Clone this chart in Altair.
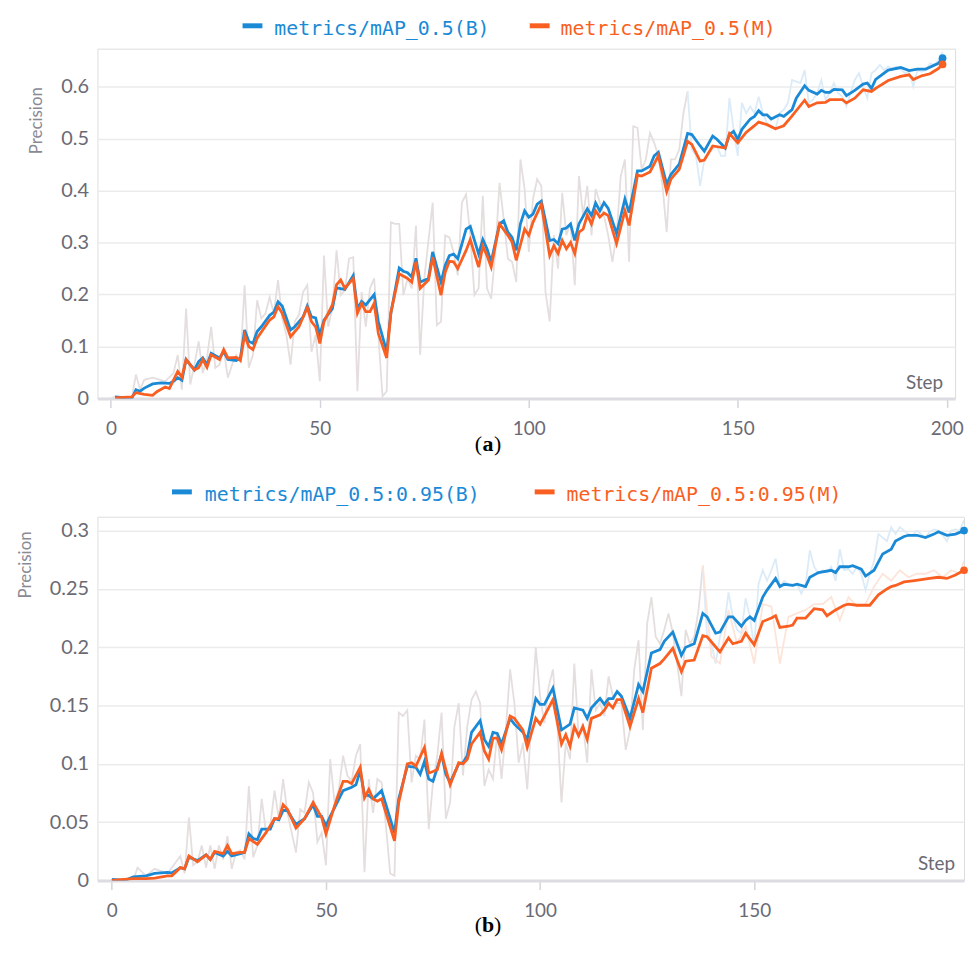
import altair as alt
import pandas as pd

# ---------------- Panel (a): metrics/mAP_0.5 ----------------
a_b_steps = [1, 5, 6, 7, 8, 10, 12, 14, 15, 16, 17, 18, 20, 21, 22, 23, 24, 26, 27, 28, 30, 31, 32, 33, 34, 35, 36, 38, 39, 40,
             41, 43, 44, 46, 47, 48, 49, 50, 51, 53, 54, 56, 58, 59, 60, 61, 63, 64, 66, 67, 69, 70, 71, 72, 73, 74, 76, 77, 79, 80,
             81, 82, 83, 85, 86, 88, 89, 90, 91, 93, 94, 95, 96, 97, 98, 99, 100, 101, 102, 103, 105, 106, 107, 108, 109, 110, 111, 112, 114, 115,
             116, 117, 118, 119, 121, 123, 124, 126, 127, 129, 130, 131, 133, 134, 136, 138, 139, 141, 142, 144, 145, 147, 148, 149, 150, 151, 153, 154, 155, 156,
             157, 158, 160, 161, 163, 164, 166, 167, 169, 170, 171, 172, 173, 175, 176, 178, 180, 181, 182, 183, 186, 189, 191, 193, 195, 198, 199]
a_b_vals = [0.003, 0.0, 0.017, 0.014, 0.02, 0.028, 0.03, 0.029, 0.033, 0.04, 0.035, 0.075, 0.055, 0.071, 0.078, 0.065, 0.087, 0.078, 0.09, 0.075, 0.073, 0.078, 0.132, 0.11, 0.106, 0.129, 0.138, 0.16, 0.166, 0.186,
            0.178, 0.132, 0.138, 0.157, 0.178, 0.157, 0.155, 0.122, 0.151, 0.173, 0.213, 0.21, 0.237, 0.173, 0.187, 0.18, 0.2, 0.148, 0.09, 0.164, 0.251, 0.245, 0.242, 0.234, 0.27, 0.224, 0.231, 0.282, 0.224, 0.256,
            0.275, 0.278, 0.269, 0.326, 0.331, 0.278, 0.306, 0.288, 0.263, 0.336, 0.342, 0.32, 0.31, 0.285, 0.336, 0.361, 0.349, 0.355, 0.374, 0.38, 0.304, 0.306, 0.298, 0.326, 0.328, 0.336, 0.304, 0.336, 0.365, 0.352,
            0.376, 0.361, 0.377, 0.366, 0.317, 0.384, 0.358, 0.438, 0.438, 0.447, 0.467, 0.474, 0.412, 0.431, 0.451, 0.51, 0.508, 0.486, 0.476, 0.505, 0.499, 0.482, 0.508, 0.514, 0.499, 0.518, 0.538, 0.543, 0.554, 0.546,
            0.546, 0.538, 0.546, 0.543, 0.556, 0.578, 0.602, 0.593, 0.586, 0.593, 0.589, 0.589, 0.595, 0.594, 0.583, 0.593, 0.605, 0.607, 0.597, 0.614, 0.632, 0.637, 0.631, 0.634, 0.634, 0.645, 0.655]

a_m_steps = [1, 5, 6, 8, 10, 11, 13, 14, 16, 17, 18, 20, 21, 22, 23, 24, 26, 27, 28, 30, 31, 32, 33, 34, 35, 38, 39, 40, 41, 43,
             45, 47, 48, 49, 50, 51, 53, 54, 55, 56, 58, 59, 60, 61, 62, 63, 64, 66, 67, 69, 71, 72, 73, 74, 76, 77, 79, 80, 81, 82,
             83, 85, 86, 88, 89, 90, 91, 93, 95, 96, 97, 99, 100, 101, 103, 105, 106, 107, 108, 109, 110, 111, 112, 113, 114, 115, 116, 117, 118, 119,
             121, 123, 124, 126, 127, 129, 131, 133, 134, 136, 138, 139, 141, 142, 144, 147, 148, 150, 152, 154, 155, 157, 159, 161, 163, 166, 167, 169, 171, 172,
             175, 176, 178, 180, 182, 183, 186, 189, 191, 192, 194, 196, 198, 199]
a_m_vals = [0.001, 0.003, 0.011, 0.008, 0.006, 0.013, 0.022, 0.019, 0.052, 0.041, 0.075, 0.055, 0.059, 0.075, 0.06, 0.084, 0.075, 0.094, 0.078, 0.079, 0.073, 0.122, 0.1, 0.094, 0.116, 0.151, 0.157, 0.177, 0.164, 0.119,
            0.138, 0.175, 0.148, 0.138, 0.106, 0.148, 0.18, 0.219, 0.228, 0.212, 0.231, 0.164, 0.183, 0.167, 0.167, 0.183, 0.125, 0.078, 0.165, 0.24, 0.231, 0.224, 0.263, 0.212, 0.228, 0.272, 0.199, 0.243, 0.264, 0.263,
            0.25, 0.285, 0.306, 0.253, 0.293, 0.275, 0.253, 0.336, 0.314, 0.301, 0.266, 0.326, 0.314, 0.339, 0.374, 0.275, 0.294, 0.279, 0.304, 0.288, 0.3, 0.279, 0.32, 0.326, 0.353, 0.336, 0.361, 0.349, 0.357, 0.352,
            0.298, 0.361, 0.333, 0.43, 0.428, 0.436, 0.467, 0.398, 0.422, 0.441, 0.495, 0.489, 0.457, 0.459, 0.486, 0.482, 0.51, 0.492, 0.512, 0.525, 0.532, 0.527, 0.519, 0.525, 0.544, 0.574, 0.562, 0.569, 0.57, 0.575,
            0.575, 0.569, 0.578, 0.594, 0.591, 0.597, 0.612, 0.62, 0.623, 0.614, 0.621, 0.625, 0.635, 0.643]

# raw (unsmoothed) values, where the two series overlap, then the B series alone
a_raw_steps = [0, 1, 2, 3, 4, 5, 6, 7, 8, 10, 13, 15, 16, 17, 18, 19, 20, 21, 22, 23, 24, 25, 26, 27, 28, 29, 30, 31, 32, 33,
               34, 35, 36, 37, 38, 39, 40, 41, 42, 43, 44, 45, 46, 47, 48, 49, 50, 51, 52, 53, 54, 55, 56, 57, 58, 59, 60, 61, 62, 63,
               64, 65, 66, 67, 68, 69, 70, 71, 72, 73, 74, 75, 77, 78, 79, 80, 81, 82, 83, 84, 85, 86, 87, 88, 89, 90, 91, 92, 93, 94,
               95, 96, 97, 98, 99, 100, 101, 102, 103, 104, 105, 106, 107, 108, 109, 110, 111, 112, 113, 114, 115, 116, 117, 118, 119, 120, 121, 122, 123, 124,
               125, 126, 127, 128, 129, 130, 131, 132, 133, 134, 135, 136, 137, 138]
a_raw_vals = [0.0, 0.004, 0.002, 0.0, 0.0, 0.001, 0.046, 0.017, 0.036, 0.04, 0.033, 0.049, 0.084, 0.017, 0.173, 0.027, 0.065, 0.11, 0.049, 0.078, 0.138, 0.059, 0.065, 0.094, 0.04, 0.065, 0.084, 0.071, 0.218, 0.059,
              0.084, 0.189, 0.154, 0.164, 0.195, 0.164, 0.228, 0.154, 0.122, 0.065, 0.148, 0.161, 0.205, 0.218, 0.09, 0.122, 0.033, 0.275, 0.138, 0.173, 0.285, 0.199, 0.208, 0.269, 0.272, 0.014, 0.205, 0.138, 0.212, 0.231,
              0.122, 0.004, 0.014, 0.339, 0.336, 0.336, 0.199, 0.231, 0.212, 0.333, 0.084, 0.231, 0.377, 0.141, 0.148, 0.314, 0.31, 0.282, 0.237, 0.377, 0.393, 0.314, 0.199, 0.212, 0.39, 0.212, 0.192, 0.282, 0.415, 0.345,
              0.269, 0.263, 0.224, 0.46, 0.403, 0.282, 0.384, 0.422, 0.409, 0.205, 0.148, 0.314, 0.25, 0.396, 0.314, 0.339, 0.218, 0.428, 0.352, 0.409, 0.314, 0.403, 0.377, 0.352, 0.314, 0.263, 0.314, 0.428, 0.46, 0.263,
              0.524, 0.521, 0.441, 0.46, 0.511, 0.492, 0.467, 0.409, 0.32, 0.46, 0.46, 0.479, 0.549, 0.591]
a_rawb_steps = [138, 139, 140, 141, 142, 143, 144, 145, 146, 147, 148, 149, 150, 151, 152, 153, 154, 155, 156, 157, 158, 159, 160, 161, 162, 163, 164, 165, 166, 167,
                168, 169, 170, 171, 172, 173, 174, 175, 176, 177, 178, 179, 180, 181, 182, 183, 184, 185, 186, 187, 188, 189, 190, 191, 192, 193, 194, 195, 196, 197,
                198, 199]
a_rawb_vals = [0.591, 0.479, 0.467, 0.409, 0.46, 0.473, 0.479, 0.486, 0.467, 0.467, 0.578, 0.518, 0.467, 0.569, 0.549, 0.562, 0.549, 0.581, 0.549, 0.53, 0.524, 0.518, 0.549, 0.556, 0.569, 0.613, 0.61, 0.607, 0.632, 0.569,
               0.575, 0.588, 0.613, 0.575, 0.588, 0.607, 0.588, 0.581, 0.562, 0.588, 0.613, 0.626, 0.6, 0.578, 0.626, 0.632, 0.642, 0.632, 0.639, 0.635, 0.639, 0.635, 0.626, 0.629, 0.6, 0.632, 0.629, 0.632, 0.645, 0.642,
               0.651, 0.667]

# ---------------- Panel (b): metrics/mAP_0.5:0.95 ----------------
b_b_steps = [0, 3, 5, 8, 10, 13, 14, 16, 17, 18, 20, 22, 23, 24, 26, 27, 28, 30, 31, 32, 33, 34, 35, 37, 38, 39, 40, 41, 43, 45,
             47, 48, 49, 50, 51, 54, 56, 57, 58, 59, 60, 61, 63, 66, 67, 69, 71, 72, 73, 74, 75, 77, 78, 79, 81, 82, 83, 84, 86, 87,
             88, 89, 90, 91, 93, 94, 96, 97, 99, 100, 101, 103, 105, 107, 108, 110, 111, 112, 114, 115, 116, 117, 118, 119, 121, 123, 124, 126, 128, 129,
             131, 133, 134, 136, 138, 139, 141, 142, 144, 145, 147, 148, 149, 150, 152, 153, 155, 156, 157, 159, 160, 162, 163, 165, 168, 169, 170, 172, 173, 175,
             176, 178, 180, 182, 183, 185, 186, 188, 190, 192, 193, 195, 197, 199]
b_b_vals = [0.001, 0.0, 0.003, 0.004, 0.006, 0.007, 0.0065, 0.011, 0.01, 0.02, 0.017, 0.022, 0.018, 0.024, 0.021, 0.025, 0.021, 0.023, 0.024, 0.04, 0.036, 0.035, 0.044, 0.044, 0.053, 0.052, 0.06, 0.06, 0.048, 0.053,
            0.065, 0.055, 0.055, 0.047, 0.055, 0.077, 0.08, 0.082, 0.094, 0.073, 0.073, 0.07, 0.077, 0.041, 0.07, 0.098, 0.097, 0.091, 0.102, 0.087, 0.085, 0.108, 0.091, 0.084, 0.1, 0.101, 0.107, 0.127, 0.137, 0.121,
            0.115, 0.127, 0.126, 0.117, 0.139, 0.134, 0.127, 0.121, 0.156, 0.151, 0.151, 0.165, 0.129, 0.134, 0.148, 0.146, 0.139, 0.148, 0.156, 0.151, 0.156, 0.156, 0.162, 0.158, 0.139, 0.168, 0.162, 0.195, 0.198, 0.205,
            0.213, 0.193, 0.2, 0.203, 0.229, 0.226, 0.212, 0.213, 0.226, 0.226, 0.218, 0.223, 0.226, 0.223, 0.243, 0.249, 0.259, 0.252, 0.254, 0.253, 0.254, 0.252, 0.26, 0.264, 0.266, 0.264, 0.269, 0.269, 0.27, 0.267,
            0.261, 0.266, 0.28, 0.284, 0.291, 0.295, 0.296, 0.296, 0.294, 0.297, 0.299, 0.296, 0.297, 0.3]

b_m_steps = [0, 5, 8, 10, 13, 14, 16, 17, 18, 20, 22, 23, 24, 26, 27, 28, 30, 31, 32, 34, 36, 38, 39, 40, 41, 43, 45, 47, 49, 50,
             52, 54, 55, 56, 58, 59, 60, 61, 62, 63, 66, 67, 69, 70, 71, 73, 74, 76, 77, 78, 79, 81, 82, 83, 84, 86, 87, 88, 89, 90,
             91, 93, 94, 96, 97, 99, 100, 101, 103, 105, 106, 107, 108, 109, 110, 111, 112, 114, 115, 116, 117, 118, 119, 121, 123, 124, 126, 128, 129, 131,
             133, 134, 136, 138, 139, 142, 144, 145, 147, 148, 150, 152, 154, 155, 156, 158, 159, 160, 162, 164, 166, 167, 169, 171, 172, 174, 177, 179, 181, 182,
             183, 185, 187, 189, 191, 193, 195, 197, 199]
b_m_vals = [0.0, 0.0015, 0.0015, 0.002, 0.004, 0.004, 0.011, 0.01, 0.021, 0.016, 0.022, 0.018, 0.025, 0.023, 0.03, 0.023, 0.024, 0.024, 0.036, 0.031, 0.041, 0.053, 0.053, 0.065, 0.061, 0.045, 0.053, 0.067, 0.054, 0.04,
            0.064, 0.085, 0.085, 0.083, 0.097, 0.071, 0.078, 0.07, 0.068, 0.07, 0.034, 0.067, 0.1, 0.101, 0.098, 0.114, 0.092, 0.095, 0.109, 0.095, 0.082, 0.101, 0.1, 0.104, 0.117, 0.127, 0.111, 0.104, 0.122, 0.122,
            0.112, 0.141, 0.139, 0.129, 0.114, 0.139, 0.134, 0.141, 0.155, 0.117, 0.125, 0.115, 0.132, 0.124, 0.132, 0.121, 0.139, 0.142, 0.146, 0.152, 0.148, 0.155, 0.155, 0.132, 0.156, 0.144, 0.182, 0.186, 0.19, 0.199,
            0.179, 0.188, 0.189, 0.21, 0.209, 0.196, 0.208, 0.203, 0.205, 0.212, 0.202, 0.222, 0.225, 0.227, 0.217, 0.218, 0.219, 0.225, 0.225, 0.233, 0.232, 0.227, 0.232, 0.236, 0.237, 0.236, 0.236, 0.245, 0.25, 0.252,
            0.253, 0.256, 0.257, 0.258, 0.259, 0.26, 0.259, 0.262, 0.266]

b_raw_steps = [0, 3, 5, 6, 8, 10, 13, 16, 17, 18, 19, 20, 21, 22, 23, 24, 25, 26, 27, 28, 29, 30, 31, 32, 33, 34, 35, 36, 37, 38,
               39, 40, 41, 42, 43, 44, 45, 46, 47, 48, 49, 50, 51, 52, 53, 54, 55, 56, 57, 58, 59, 60, 61, 62, 63, 64, 65, 66, 67, 68,
               69, 70, 71, 72, 73, 74, 75, 76, 77, 78, 79, 80, 81, 82, 83, 84, 85, 86, 87, 88, 89, 90, 91, 92, 93, 94, 95, 96, 97, 98,
               99, 100, 101, 102, 103, 104, 105, 106, 107, 108, 109, 110, 111, 112, 113, 114, 115, 116, 117, 118, 119, 120, 121, 122, 123, 124, 125, 126, 127, 128,
               129, 130, 131, 132, 133, 134, 135, 136, 137, 138]
b_raw_vals = [0.0, 0.001, 0.0, 0.011, 0.004, 0.01, 0.006, 0.021, 0.006, 0.054, 0.013, 0.016, 0.03, 0.011, 0.03, 0.01, 0.03, 0.018, 0.038, 0.01, 0.024, 0.026, 0.018, 0.081, 0.02, 0.03, 0.07, 0.041, 0.047, 0.077,
              0.053, 0.087, 0.058, 0.041, 0.024, 0.061, 0.058, 0.084, 0.075, 0.033, 0.041, 0.013, 0.104, 0.067, 0.078, 0.107, 0.09, 0.085, 0.107, 0.117, 0.007, 0.087, 0.058, 0.087, 0.084, 0.047, 0.006, 0.004, 0.144, 0.141,
              0.146, 0.084, 0.107, 0.104, 0.138, 0.044, 0.084, 0.107, 0.144, 0.053, 0.067, 0.132, 0.152, 0.09, 0.132, 0.155, 0.162, 0.152, 0.081, 0.095, 0.087, 0.127, 0.087, 0.129, 0.181, 0.152, 0.101, 0.118, 0.078, 0.138,
              0.2, 0.158, 0.135, 0.166, 0.181, 0.135, 0.067, 0.118, 0.104, 0.186, 0.124, 0.135, 0.101, 0.181, 0.146, 0.152, 0.141, 0.175, 0.158, 0.152, 0.152, 0.112, 0.129, 0.181, 0.206, 0.129, 0.22, 0.243, 0.209, 0.203,
              0.215, 0.229, 0.212, 0.186, 0.158, 0.215, 0.203, 0.209, 0.232, 0.27]
b_rawb_steps = [138, 139, 140, 141, 142, 143, 144, 145, 146, 147, 148, 149, 150, 151, 152, 153, 154, 155, 156, 157, 158, 159, 160, 161, 162, 163, 164, 165, 166, 167,
                168, 169, 170, 171, 172, 173, 174, 175, 176, 177, 178, 179, 180, 181, 182, 183, 184, 185, 186, 187, 188, 189, 190, 191, 192, 193, 194, 195, 196, 197,
                198, 199]
b_rawb_vals = [0.27, 0.209, 0.203, 0.186, 0.209, 0.218, 0.247, 0.226, 0.215, 0.212, 0.242, 0.226, 0.2, 0.254, 0.266, 0.257, 0.266, 0.276, 0.252, 0.257, 0.254, 0.252, 0.254, 0.246, 0.254, 0.283, 0.269, 0.263, 0.266, 0.264,
               0.269, 0.257, 0.284, 0.266, 0.267, 0.263, 0.269, 0.263, 0.249, 0.263, 0.274, 0.297, 0.294, 0.291, 0.303, 0.297, 0.303, 0.3, 0.297, 0.296, 0.3, 0.297, 0.294, 0.299, 0.301, 0.3, 0.296, 0.291, 0.3, 0.301,
               0.3, 0.309]
b_rawm_steps = [138, 140, 142, 144, 146, 148, 150, 152, 154, 156, 158, 160, 162, 164, 166, 168, 170, 172, 174, 176, 178, 180, 182, 184, 186, 188, 190, 192, 194, 196,
                198, 199]
b_rawm_vals = [0.27, 0.192, 0.186, 0.232, 0.203, 0.218, 0.186, 0.237, 0.235, 0.186, 0.226, 0.229, 0.232, 0.237, 0.237, 0.243, 0.223, 0.243, 0.235, 0.237, 0.252, 0.263, 0.257, 0.266, 0.26, 0.263, 0.263, 0.266, 0.26, 0.266,
               0.263, 0.274]

# ---------------- labels ----------------
a_legend = ["metrics/mAP_0.5(B)", "metrics/mAP_0.5(M)"]
b_legend = ["metrics/mAP_0.5:0.95(B)", "metrics/mAP_0.5:0.95(M)"]
y_title = "Precision"
x_label = "Step"
a_caption = ["(", "a", ")"]
b_caption = ["(", "b", ")"]
a_xticks = [0, 50, 100, 150, 200]
a_yticks = [0, 0.1, 0.2, 0.3, 0.4, 0.5, 0.6]
b_xticks = [0, 50, 100, 150]
b_yticks = [0, 0.05, 0.1, 0.15, 0.2, 0.25, 0.3]

BLUE = "#1a8ad6"
ORANGE = "#fa5f22"
RAW_SHARED = "#e5dede"
RAW_BLUE = "#dbebf8"
RAW_ORANGE = "#fde4d9"
TXT = "#6a6a74"
FONT = "Lato"


def df(steps, vals):
    return pd.DataFrame({"step": steps, "value": vals})


def panel(width, height, xdom, ydom, xticks, yticks, smooth, raws, legend, leg_pos, caption, cap_pos,
          step_pos, title_xy):
    x = alt.X("step:Q", scale=alt.Scale(domain=xdom, nice=False, zero=False),
              axis=alt.Axis(values=xticks, title=None, grid=False, format="d",
                            domainColor="#dcdce2", domainWidth=3, tickColor="#d4d4da",
                            tickWidth=1.5, tickSize=9, labelPadding=12, labelFontSize=19,
                            labelColor=TXT, labelFont=FONT))
    y = alt.Y("value:Q", scale=alt.Scale(domain=ydom, nice=False, zero=False),
              axis=alt.Axis(values=yticks, format="~g", title=y_title, grid=True,
                            gridColor="#ebebeb", gridWidth=1.5, domain=False, ticks=False,
                            labelPadding=9, labelFontSize=20, labelColor=TXT, labelFont=FONT,
                            titleFont=FONT, titleFontSize=17, titleColor="#8a8a94",
                            titleFontWeight="normal", titleAngle=-90, titleAlign="center",
                            titleBaseline="middle", titleX=title_xy[0], titleY=title_xy[1]))
    layers = []
    for d, col in raws:
        layers.append(alt.Chart(d).mark_line(color=col, strokeWidth=1.8, clip=True)
                      .encode(x=x, y=y))
    for d, col in smooth:
        layers.append(alt.Chart(d).mark_line(color=col, strokeWidth=2.8, clip=True)
                      .encode(x=x, y=y))
        layers.append(alt.Chart(d.tail(1)).mark_circle(color=col, size=60, opacity=1)
                      .encode(x=x, y=y))
    # legend
    for (label, col), (sx, tx) in zip(zip(legend, [BLUE, ORANGE]), leg_pos[0]):
        ld = pd.DataFrame({"label": [label]})
        layers.append(alt.Chart(ld).mark_rule(color=col, strokeWidth=5)
                      .encode(x=alt.value(sx), x2=alt.value(sx + 20), y=alt.value(leg_pos[1] - 3)))
        layers.append(alt.Chart(ld).mark_text(color=col, font="DejaVu Sans Mono", fontSize=20,
                                              align="left", baseline="middle")
                      .encode(x=alt.value(tx), y=alt.value(leg_pos[1]), text="label:N"))
    # step label
    sd = pd.DataFrame({"label": [x_label]})
    layers.append(alt.Chart(sd).mark_text(color=TXT, font=FONT, fontSize=19, align="right",
                                          baseline="middle")
                  .encode(x=alt.value(step_pos[0]), y=alt.value(step_pos[1]), text="label:N"))
    # caption: "(" regular, letter bold, ")" regular
    cx, cy = cap_pos
    for part, weight, align, dx in [(caption[0], "normal", "right", -6),
                                    (caption[1], "bold", "center", 0),
                                    (caption[2], "normal", "left", 6)]:
        cd = pd.DataFrame({"label": [part]})
        layers.append(alt.Chart(cd).mark_text(color="#000000", font="Liberation Serif", fontSize=22,
                                              fontWeight=weight, align=align, baseline="middle")
                      .encode(x=alt.value(cx + dx), y=alt.value(cy), text="label:N"))
    return alt.layer(*layers).properties(width=width, height=height)


# plot left edge sits at x = 96.5 in the page
pa = panel(863, 352, [-3.21, 202.0], [0, 0.6733], a_xticks, a_yticks,
           [(df(a_b_steps, a_b_vals), BLUE), (df(a_m_steps, a_m_vals), ORANGE)],
           [(df(a_raw_steps, a_raw_vals), RAW_SHARED), (df(a_rawb_steps, a_rawb_vals), RAW_BLUE)],
           a_legend, ([(146, 178), (435, 466)], -20), a_caption, (393, 398), (851, 336), (-61, 72))

pb = panel(872, 366, [-3.36, 199.0], [0, 0.3119], b_xticks, b_yticks,
           [(df(b_b_steps, b_b_vals), BLUE), (df(b_m_steps, b_m_vals), ORANGE)],
           [(df(b_raw_steps, b_raw_vals), RAW_SHARED), (df(b_rawb_steps, b_rawb_vals), RAW_BLUE),
            (df(b_rawm_steps, b_rawm_vals), RAW_ORANGE)],
           b_legend, ([(75, 108), (440, 472)], -22), b_caption, (393, 411), (863, 349), (-72, 48))

chart = (alt.vconcat(pa, pb, spacing=119, bounds="flush")
         .resolve_scale(x="independent", y="independent")
         .properties(padding={"left": 8, "top": 7, "right": 0, "bottom": 0})
         .configure_view(stroke=None)
         .configure(background="white"))

chart.save("out.html", embed_options={"renderer": "svg", "actions": False})
